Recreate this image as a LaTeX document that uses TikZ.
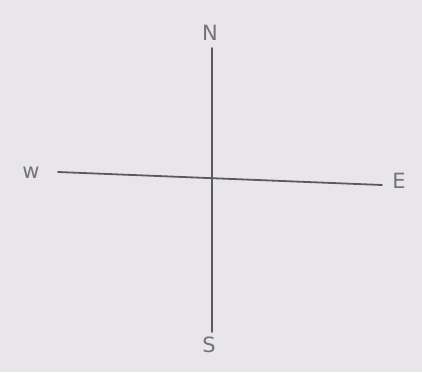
\documentclass[tikz,border=0pt]{standalone}
\usepackage{fontspec}
\setmainfont{DejaVu Sans}
\definecolor{paper}{HTML}{E8E6EA}
\definecolor{pencil}{HTML}{5A5A60}
\tikzset{
  axis/.style={draw=pencil, line width=1.8pt, line cap=round},
  lbl/.style={text=pencil!85, font=\fontsize{21}{21}\selectfont, inner sep=0pt}
}
\begin{document}
\begin{tikzpicture}[x=1pt,y=-1pt]
\fill[paper] (0,0) rectangle (422,372);
\useasboundingbox (0,0) rectangle (422,372);
\node[lbl] (N) at (210,33) {N};
\node[lbl] (S) at (209,345) {S};
\node[lbl] (W) at (31,173) {w};
\node[lbl] (E) at (399,181) {E};
\coordinate (nt) at (212,48);
\coordinate (sb) at (212,332);
\coordinate (wl) at (58,172);
\coordinate (er) at (382,185);
\draw[axis] (nt) -- (sb);
\draw[axis] (wl) -- (er);
\end{tikzpicture}
\end{document}
